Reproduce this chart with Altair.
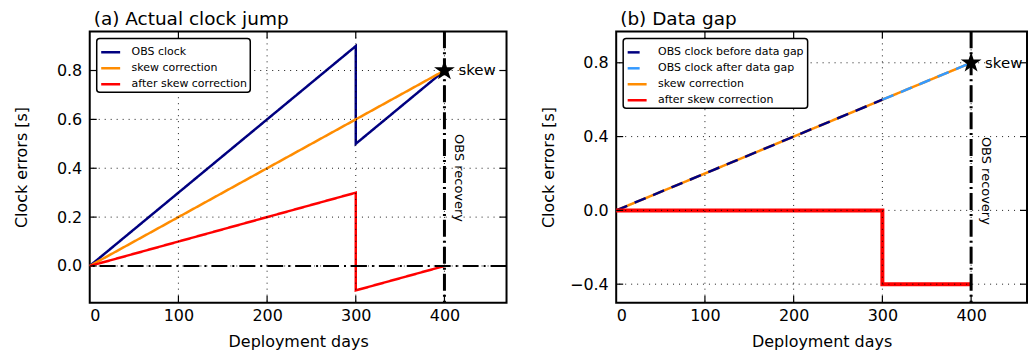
import altair as alt
import pandas as pd

# ---------------- data ----------------
# Panel (a) Actual clock jump
a_obs_days = [0, 300, 300, 400]
a_obs_err = [0.0, 0.9, 0.5, 0.8]
a_skew_days = [0, 400]
a_skew_err = [0.0, 0.8]
a_after_days = [0, 300, 300, 400]
a_after_err = [0.0, 0.3, -0.1, 0.0]

# Panel (b) Data gap
b_before_days = [0, 300]
b_before_err = [0.0, 0.6]
b_aftergap_days = [300, 400]
b_aftergap_err = [0.6, 0.8]
b_skew_days = [0, 400]
b_skew_err = [0.0, 0.8]
b_after_days = [0, 300, 300, 400]
b_after_err = [0.0, 0.0, -0.4, -0.4]

recovery_day = [400]
skew_value = [0.8]
zero_line = [0.0]

x_ticks = [0, 100, 200, 300, 400]
a_y_ticks = [0.0, 0.2, 0.4, 0.6, 0.8]
b_y_ticks = [-0.4, 0.0, 0.4, 0.8]

H = 272
FONT = "DejaVu Sans"
TL = 7  # inward tick length
STAR = ("M0,-1L0.225,-0.309L0.951,-0.309L0.363,0.118L0.588,0.809L0,0.382"
        "L-0.588,0.809L-0.363,0.118L-0.951,-0.309L-0.225,-0.309Z")


def sdf(name, days, errs):
    return pd.DataFrame({"series": name, "day": days, "err": errs, "i": list(range(len(days)))})


def panel(title, series, draw_order, x_max, W, y_domain, y_ticks, rec_label_y, zero_rule):
    names = [s[0] for s in series]
    colors = [s[3] for s in series]
    dashes = [s[4] for s in series]

    X = alt.X("day:Q", scale=alt.Scale(domain=[0, x_max], nice=False, zero=False),
              axis=alt.Axis(values=x_ticks, title="Deployment days", ticks=False, grid=False,
                            domain=False, labelFontSize=16, titleFontSize=16, labelPadding=5,
                            titlePadding=10, titleFontWeight="normal", format="d",
                            labelColor="black", titleColor="black"))
    Y = alt.Y("err:Q", scale=alt.Scale(domain=y_domain, nice=False, zero=False),
              axis=alt.Axis(values=y_ticks, title="Clock errors [s]", ticks=False, grid=False,
                            domain=False, labelFontSize=16, titleFontSize=16, labelPadding=8,
                            titlePadding=12, minExtent=48, maxExtent=48, format=".1f",
                            titleFontWeight="normal", labelColor="black", titleColor="black"))
    legend = alt.Legend(title=None, orient="top-left", offset=7, symbolType="stroke",
                        symbolSize=361, symbolStrokeWidth=2.5, labelFontSize=11,
                        labelOffset=10, rowPadding=-2, padding=3, strokeColor="black",
                        fillColor="white", cornerRadius=3, labelLimit=400,
                        labelColor="black")
    color = alt.Color("series:N", scale=alt.Scale(domain=names, range=colors), legend=legend)
    dash = alt.StrokeDash("series:N", scale=alt.Scale(domain=names, range=dashes), legend=legend)

    layers = []
    for k in draw_order:
        name, days, errs, col, dsh, sw = series[k]
        layers.append(
            alt.Chart(sdf(name, days, errs)).mark_line(strokeWidth=sw)
            .encode(x=X, y=Y, color=color, strokeDash=dash, order="i:Q")
        )
    grid_style = dict(color="black", strokeWidth=1, strokeDash=[1, 5], opacity=0.9)
    layers.append(alt.Chart(pd.DataFrame({"day": x_ticks[1:]})).mark_rule(**grid_style).encode(x=X))
    layers.append(alt.Chart(pd.DataFrame({"err": y_ticks})).mark_rule(**grid_style).encode(y=Y))
    # inward ticks on all sides
    xt = pd.DataFrame({"day": x_ticks[1:]})
    yt = pd.DataFrame({"err": y_ticks})
    tick_style = dict(color="black", strokeWidth=1.2)
    layers.append(alt.Chart(xt).mark_rule(**tick_style).encode(x=X, y=alt.value(H - TL), y2=alt.value(H)))
    layers.append(alt.Chart(xt).mark_rule(**tick_style).encode(x=X, y=alt.value(0), y2=alt.value(TL)))
    layers.append(alt.Chart(yt).mark_rule(**tick_style).encode(y=Y, x=alt.value(0), x2=alt.value(TL)))
    layers.append(alt.Chart(yt).mark_rule(**tick_style).encode(y=Y, x=alt.value(W - TL), x2=alt.value(W)))
    if zero_rule:
        layers.append(alt.Chart(pd.DataFrame({"err": zero_line})).mark_rule(
            color="black", strokeWidth=2, strokeDash=[16, 5, 2, 5]).encode(y=Y))
    layers.append(alt.Chart(pd.DataFrame({"day": recovery_day})).mark_rule(
        color="black", strokeWidth=3, strokeDash=[17, 4, 2, 4]).encode(x=X))
    star_df = pd.DataFrame({"day": recovery_day, "err": skew_value})
    layers.append(alt.Chart(star_df).mark_point(shape=STAR, filled=True, size=480, color="black",
                                                opacity=1).encode(x=X, y=Y))
    layers.append(alt.Chart(star_df).mark_text(text="skew", align="left", baseline="middle", dx=14,
                                               fontSize=15, color="black").encode(x=X, y=Y))
    rec_df = pd.DataFrame({"day": recovery_day, "err": [rec_label_y]})
    layers.append(alt.Chart(rec_df).mark_text(text="OBS recovery", angle=90, align="center",
                                              baseline="middle", dx=0, dy=-15, fontSize=13,
                                              color="black").encode(x=X, y=Y))
    return alt.layer(*layers).properties(
        width=W, height=H,
        title=alt.TitleParams(title, anchor="start", frame="group", fontSize=18.5,
                              fontWeight="normal", offset=1, dx=4, color="black"))


NAVY, ORANGE, RED, LBLUE = "#000080", "#FF8C00", "#FF0000", "#3399FF"
SOLID = [1, 0]
DASH = [12, 8]

left = panel("(a) Actual clock jump", [
    ("OBS clock", a_obs_days, a_obs_err, NAVY, SOLID, 2.5),
    ("skew correction", a_skew_days, a_skew_err, ORANGE, SOLID, 2.5),
    ("after skew correction", a_after_days, a_after_err, RED, SOLID, 2.5),
], [0, 1, 2], 470, 418, [-0.15, 0.96], a_y_ticks, 0.36, True)

right = panel("(b) Data gap", [
    ("OBS clock before data gap", b_before_days, b_before_err, NAVY, DASH, 2.5),
    ("OBS clock after data gap", b_aftergap_days, b_aftergap_err, LBLUE, DASH, 2.5),
    ("skew correction", b_skew_days, b_skew_err, ORANGE, SOLID, 2.5),
    ("after skew correction", b_after_days, b_after_err, RED, SOLID, 4),
], [2, 0, 1, 3], 463, 412, [-0.5, 0.97], b_y_ticks, 0.16, False)

chart = alt.hconcat(left, right, spacing=31).resolve_scale(
    color="independent", strokeDash="independent"
).properties(
    padding={"left": 13, "top": 9, "right": 0, "bottom": 0}
).configure(font=FONT).configure_view(stroke="black", strokeWidth=2).configure_legend(
    strokeWidth=1.5
)

chart.save("out.html", embed_options={"renderer": "svg", "actions": False})
